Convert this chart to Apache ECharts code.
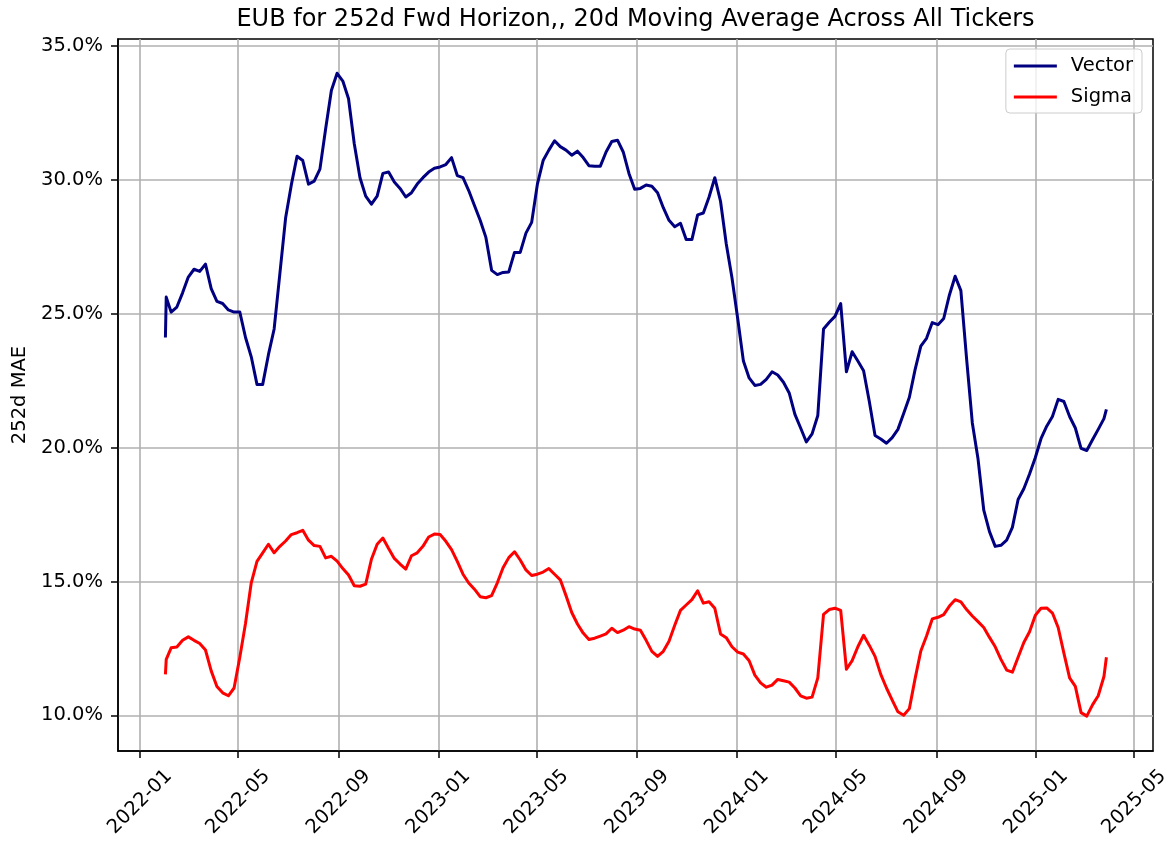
<!DOCTYPE html>
<html>
<head>
<meta charset="utf-8">
<title>EUB 252d</title>
<script src="https://cdn.jsdelivr.net/npm/echarts@6/dist/echarts.min.js"></script>
<style>
  html, body { margin: 0; padding: 0; background: #fff; }
  #chart { width: 1173px; height: 842px; }
</style>
</head>
<body>
<div id="chart"></div>
<script>
// weekly readings (plus the first-day jump and the last day)
const dates = [
  '2022-02-01', '2022-02-02', '2022-02-08', '2022-02-15', '2022-02-22', '2022-03-01', '2022-03-08', '2022-03-15', '2022-03-22', '2022-03-29',
  '2022-04-05', '2022-04-12', '2022-04-19', '2022-04-26', '2022-05-03', '2022-05-10', '2022-05-17', '2022-05-24', '2022-05-31', '2022-06-07',
  '2022-06-14', '2022-06-21', '2022-06-28', '2022-07-05', '2022-07-12', '2022-07-19', '2022-07-26', '2022-08-02', '2022-08-09', '2022-08-16',
  '2022-08-23', '2022-08-30', '2022-09-06', '2022-09-13', '2022-09-20', '2022-09-27', '2022-10-04', '2022-10-11', '2022-10-18', '2022-10-25',
  '2022-11-01', '2022-11-08', '2022-11-15', '2022-11-22', '2022-11-29', '2022-12-06', '2022-12-13', '2022-12-20', '2022-12-27', '2023-01-03',
  '2023-01-10', '2023-01-17', '2023-01-24', '2023-01-31', '2023-02-07', '2023-02-14', '2023-02-21', '2023-02-28', '2023-03-07', '2023-03-14',
  '2023-03-21', '2023-03-28', '2023-04-04', '2023-04-11', '2023-04-18', '2023-04-25', '2023-05-02', '2023-05-09', '2023-05-16', '2023-05-23',
  '2023-05-30', '2023-06-06', '2023-06-13', '2023-06-20', '2023-06-27', '2023-07-04', '2023-07-11', '2023-07-18', '2023-07-25', '2023-08-01',
  '2023-08-08', '2023-08-15', '2023-08-22', '2023-08-29', '2023-09-05', '2023-09-12', '2023-09-19', '2023-09-26', '2023-10-03', '2023-10-10',
  '2023-10-17', '2023-10-24', '2023-10-31', '2023-11-07', '2023-11-14', '2023-11-21', '2023-11-28', '2023-12-05', '2023-12-12', '2023-12-19',
  '2023-12-26', '2024-01-02', '2024-01-09', '2024-01-16', '2024-01-23', '2024-01-30', '2024-02-06', '2024-02-13', '2024-02-20', '2024-02-27',
  '2024-03-05', '2024-03-12', '2024-03-19', '2024-03-26', '2024-04-02', '2024-04-09', '2024-04-16', '2024-04-23', '2024-04-30', '2024-05-07',
  '2024-05-14', '2024-05-21', '2024-05-28', '2024-06-04', '2024-06-11', '2024-06-18', '2024-06-25', '2024-07-02', '2024-07-09', '2024-07-16',
  '2024-07-23', '2024-07-30', '2024-08-06', '2024-08-13', '2024-08-20', '2024-08-27', '2024-09-03', '2024-09-10', '2024-09-17', '2024-09-24',
  '2024-10-01', '2024-10-08', '2024-10-15', '2024-10-22', '2024-10-29', '2024-11-05', '2024-11-12', '2024-11-19', '2024-11-26', '2024-12-03',
  '2024-12-10', '2024-12-17', '2024-12-24', '2024-12-31', '2025-01-07', '2025-01-14', '2025-01-21', '2025-01-28', '2025-02-04', '2025-02-11',
  '2025-02-18', '2025-02-25', '2025-03-04', '2025-03-11', '2025-03-18', '2025-03-25', '2025-03-28'
];

const vector = [
  24.11, 25.62, 25.06, 25.25, 25.78, 26.37, 26.66, 26.58, 26.85, 25.94,
  25.46, 25.38, 25.14, 25.06, 25.06, 24.11, 23.39, 22.36, 22.36, 23.47,
  24.43, 26.50, 28.57, 29.81, 30.88, 30.72, 29.84, 29.95, 30.40, 31.91,
  33.34, 33.98, 33.69, 33.03, 31.35, 30.08, 29.39, 29.09, 29.39, 30.24,
  30.29, 29.92, 29.68, 29.36, 29.52, 29.84, 30.08, 30.29, 30.43, 30.48,
  30.57, 30.83, 30.16, 30.08, 29.60, 29.04, 28.49, 27.85, 26.62, 26.46,
  26.54, 26.56, 27.29, 27.29, 28.01, 28.41, 29.84, 30.72, 31.11, 31.46,
  31.24, 31.11, 30.92, 31.07, 30.83, 30.53, 30.51, 30.51, 31.04, 31.43,
  31.48, 31.04, 30.24, 29.65, 29.68, 29.81, 29.76, 29.52, 28.96, 28.49,
  28.25, 28.38, 27.77, 27.77, 28.69, 28.76, 29.36, 30.08, 29.20, 27.61,
  26.34, 24.82, 23.23, 22.60, 22.32, 22.36, 22.55, 22.83, 22.71, 22.44,
  22.04, 21.24, 20.73, 20.21, 20.51, 21.20, 24.43, 24.68, 24.90, 25.38,
  22.83, 23.58, 23.23, 22.87, 21.72, 20.45, 20.32, 20.16, 20.37, 20.68,
  21.27, 21.88, 22.91, 23.79, 24.08, 24.67, 24.59, 24.82, 25.70, 26.40,
  25.86, 23.31, 20.92, 19.57, 17.66, 16.86, 16.31, 16.35, 16.54, 17.02,
  18.06, 18.46, 19.01, 19.62, 20.33, 20.80, 21.16, 21.80, 21.72, 21.16,
  20.73, 19.97, 19.89, 20.29, 20.68, 21.08, 21.43
];

const sigma = [
  11.53, 12.09, 12.52, 12.55, 12.80, 12.93, 12.80, 12.68, 12.44, 11.66,
  11.08, 10.84, 10.73, 11.02, 12.17, 13.44, 14.95, 15.75, 16.07, 16.39,
  16.07, 16.31, 16.51, 16.75, 16.82, 16.91, 16.54, 16.34, 16.31, 15.88,
  15.94, 15.76, 15.48, 15.24, 14.84, 14.82, 14.90, 15.83, 16.39, 16.62,
  16.23, 15.86, 15.65, 15.46, 15.96, 16.07, 16.31, 16.66, 16.77, 16.75,
  16.50, 16.19, 15.75, 15.27, 14.94, 14.71, 14.43, 14.39, 14.47, 14.95,
  15.51, 15.89, 16.11, 15.80, 15.43, 15.22, 15.27, 15.35, 15.48, 15.27,
  15.06, 14.47, 13.84, 13.41, 13.07, 12.83, 12.88, 12.96, 13.04, 13.25,
  13.09, 13.18, 13.31, 13.22, 13.18, 12.80, 12.39, 12.20, 12.39, 12.77,
  13.36, 13.92, 14.12, 14.32, 14.65, 14.19, 14.24, 14.00, 13.04, 12.90,
  12.56, 12.36, 12.29, 12.04, 11.50, 11.21, 11.05, 11.13, 11.34, 11.29,
  11.24, 11.02, 10.73, 10.64, 10.68, 11.40, 13.77, 13.95, 14.00, 13.92,
  11.72, 12.04, 12.56, 12.99, 12.61, 12.20, 11.53, 11.02, 10.57, 10.13,
  10.00, 10.25, 11.37, 12.40, 12.96, 13.60, 13.66, 13.76, 14.08, 14.32,
  14.24, 13.95, 13.71, 13.50, 13.28, 12.91, 12.56, 12.09, 11.69, 11.61,
  12.17, 12.72, 13.12, 13.73, 14.00, 14.01, 13.82, 13.28, 12.32, 11.40,
  11.08, 10.10, 9.97, 10.39, 10.73, 11.45, 12.17
];

const xTicks = [
  '2022-01-01', '2022-05-01', '2022-09-01', '2023-01-01', '2023-05-01', '2023-09-01',
  '2024-01-01', '2024-05-01', '2024-09-01', '2025-01-01', '2025-05-01'
];
const yTicks = [10, 15, 20, 25, 30, 35];

const titleText = 'EUB for 252d Fwd Horizon,, 20d Moving Average Across All Tickers';
const font = 'DejaVu Sans';

// x is a plain value axis in ms (UTC) so the month ticks can be placed exactly
const ms = (s) => Date.parse(s + 'T00:00:00Z');
const pad2 = (n) => (n < 10 ? '0' + n : '' + n);
const fmtMonth = (v) => {
  const d = new Date(v);
  return `${d.getUTCFullYear()}-${pad2(d.getUTCMonth() + 1)}`;
};

// centre the title over the plot area, not the whole canvas
const measure = document.createElement('canvas').getContext('2d');
measure.font = `24px "${font}"`;
const titleLeft = 635.5 - measure.measureText(titleText).width / 2;

const chart = echarts.init(document.getElementById('chart'), null, { renderer: 'canvas' });

chart.setOption({
  animation: false,
  backgroundColor: '#fff',
  textStyle: { fontFamily: font },
  title: {
    text: titleText,
    left: titleLeft,
    top: 8,
    padding: 0,
    textStyle: { fontFamily: font, fontSize: 24, fontWeight: 'normal', color: '#000' }
  },
  legend: {
    data: ['Vector', 'Sigma'],
    orient: 'vertical',
    right: 31,
    top: 49,
    padding: [6, 9, 5, 8],
    itemGap: 9,
    itemWidth: 43,
    itemHeight: 3,
    icon: 'rect',
    backgroundColor: 'rgba(255,255,255,0.8)',
    borderColor: '#cccccc',
    borderWidth: 1,
    borderRadius: 4,
    textStyle: { fontFamily: font, fontSize: 19.5, color: '#000', lineHeight: 22, padding: [0, 0, 0, 9] }
  },
  grid: {
    left: 118,
    right: 20,
    top: 39,
    bottom: 91,
    show: true,
    borderColor: '#000',
    borderWidth: 1.5,
    backgroundColor: 'transparent'
  },
  xAxis: {
    type: 'value',
    min: ms('2021-12-05'),
    max: ms('2025-05-24'),
    axisLine: { show: true, lineStyle: { color: '#000', width: 1.5 } },
    axisTick: { show: true, length: 7, lineStyle: { color: '#000', width: 1.5 }, customValues: xTicks.map(ms) },
    axisLabel: {
      customValues: xTicks.map(ms),
      formatter: fmtMonth,
      rotate: 45,
      align: 'center',
      verticalAlign: 'middle',
      margin: 51,
      hideOverlap: false,
      color: '#000',
      fontFamily: font,
      fontSize: 19.5
    },
    splitLine: { show: true, lineStyle: { color: '#b0b0b0', width: 1.6 } }
  },
  yAxis: {
    type: 'value',
    min: 8.667,
    max: 35.26,
    name: '252d MAE',
    nameLocation: 'middle',
    nameGap: 84,
    nameTextStyle: { fontFamily: font, fontSize: 19.5, color: '#000' },
    axisLine: { show: true, lineStyle: { color: '#000', width: 1.5 } },
    axisTick: { show: true, length: 7, lineStyle: { color: '#000', width: 1.5 }, customValues: yTicks },
    axisLabel: {
      customValues: yTicks,
      formatter: (v) => v.toFixed(1) + '%',
      margin: 15,
      color: '#000',
      fontFamily: font,
      fontSize: 19.5
    },
    splitLine: { show: true, lineStyle: { color: '#b0b0b0', width: 1.6 } }
  },
  series: [
    {
      name: 'Vector',
      type: 'line',
      data: dates.map((d, i) => [ms(d), vector[i]]),
      showSymbol: false,
      color: '#000080',
      lineStyle: { color: '#000080', width: 3, join: 'round', cap: 'butt' }
    },
    {
      name: 'Sigma',
      type: 'line',
      data: dates.map((d, i) => [ms(d), sigma[i]]),
      showSymbol: false,
      color: '#ff0000',
      lineStyle: { color: '#ff0000', width: 3, join: 'round', cap: 'butt' }
    }
  ]
});
</script>
</body>
</html>
